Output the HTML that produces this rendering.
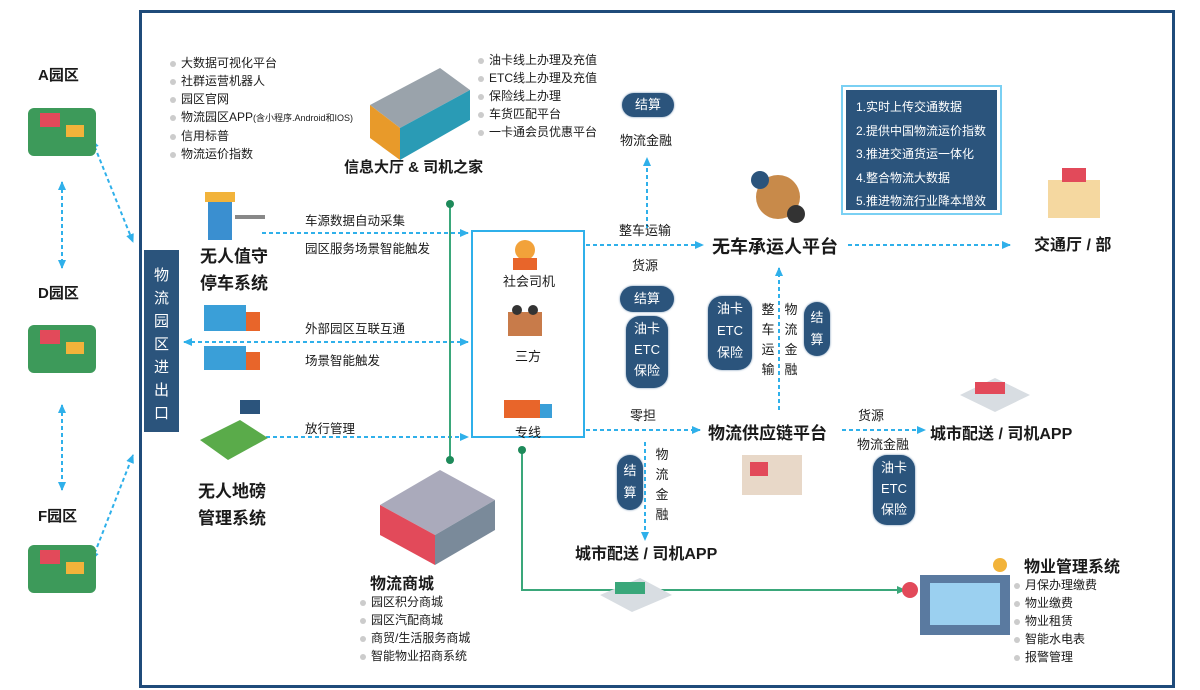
<!DOCTYPE html>
<html><head><meta charset="utf-8"><style>
body{margin:0;width:1200px;height:690px;background:#fff;position:relative;overflow:hidden;font-family:"Liberation Sans","Noto Sans CJK SC",sans-serif;color:#1a1a1a}
.a{position:absolute;white-space:nowrap}
.t{font-size:12.5px}
.b{font-weight:bold}
.big{font-size:17px;font-weight:bold;line-height:27px}
.pill{position:absolute;background:#2b547c;color:#fff;border-radius:14px;text-align:center;font-size:13px;line-height:17px;box-shadow:0 0 2px #6a8cae}
.li{font-size:12px;line-height:18px}
.li div::before{content:"";display:inline-block;width:6px;height:6px;border-radius:3px;background:#ccc;margin-right:5px;vertical-align:middle}
.v{width:14px;white-space:normal;line-height:20px;font-size:13px;text-align:center}
svg{position:absolute;left:0;top:0}
</style></head><body>
<div class="a" style="left:139px;top:10px;width:1030px;height:672px;border:3px solid #1f4b7a"></div>
<div class="a" style="left:144px;top:250px;width:35px;height:182px;background:#2b547c;color:#fff;font-size:15px;line-height:23px;white-space:normal;text-align:center;padding:14px 10px 0;box-sizing:border-box;word-break:break-all">物流园区进出口</div>

<svg width="1200" height="690">
<defs>
<marker id="m" markerUnits="userSpaceOnUse" markerWidth="10" markerHeight="10" refX="8" refY="5" orient="auto"><path d="M0,1 L9,5 L0,9z" fill="#2fb0ea"/></marker>
<marker id="ms" markerUnits="userSpaceOnUse" markerWidth="10" markerHeight="10" refX="2" refY="5" orient="auto"><path d="M10,1 L1,5 L10,9z" fill="#2fb0ea"/></marker>
<marker id="g" markerUnits="userSpaceOnUse" markerWidth="10" markerHeight="10" refX="8" refY="5" orient="auto"><path d="M0,1 L9,5 L0,9z" fill="#3aa77a"/></marker>
</defs>
<g stroke="#2fb0ea" stroke-width="2" stroke-dasharray="4,3" fill="none">
<line x1="62" y1="182" x2="62" y2="268" marker-end="url(#m)" marker-start="url(#ms)"/>
<line x1="62" y1="405" x2="62" y2="490" marker-end="url(#m)" marker-start="url(#ms)"/>
<line x1="92" y1="140" x2="133" y2="242" marker-end="url(#m)" marker-start="url(#ms)"/>
<line x1="92" y1="560" x2="133" y2="455" marker-end="url(#m)" marker-start="url(#ms)"/>
<line x1="262" y1="233" x2="468" y2="233" marker-end="url(#m)"/>
<line x1="184" y1="342" x2="468" y2="342" marker-end="url(#m)" marker-start="url(#ms)"/>
<line x1="266" y1="437" x2="468" y2="437" marker-end="url(#m)"/>
<line x1="586" y1="245" x2="703" y2="245" marker-end="url(#m)"/>
<line x1="647" y1="228" x2="647" y2="158" marker-end="url(#m)"/>
<line x1="586" y1="430" x2="700" y2="430" marker-end="url(#m)"/>
<line x1="779" y1="410" x2="779" y2="268" marker-end="url(#m)"/>
<line x1="848" y1="245" x2="1010" y2="245" marker-end="url(#m)"/>
<line x1="842" y1="430" x2="925" y2="430" marker-end="url(#m)"/>
<line x1="645" y1="442" x2="645" y2="540" marker-end="url(#m)"/>
</g>
<rect x="472" y="231" width="112" height="206" fill="none" stroke="#2fb0ea" stroke-width="2"/>
<rect x="842" y="86" width="159" height="128" fill="#fff" stroke="#7ad0f3" stroke-width="2"/>
<rect x="846" y="90" width="151" height="120" fill="#2b547c"/>
<g stroke="#3aa77a" stroke-width="2" fill="none">
<line x1="450" y1="205" x2="450" y2="460"/>
<polyline points="522,450 522,590 905,590" marker-end="url(#g)"/>
</g>
<circle cx="450" cy="204" r="4" fill="#1e8a5a"/><circle cx="450" cy="460" r="4" fill="#1e8a5a"/><circle cx="522" cy="450" r="4" fill="#1e8a5a"/>
<g>
<rect x="28" y="108" width="68" height="48" rx="6" fill="#3d9a5a"/>
<rect x="40" y="113" width="20" height="14" fill="#e24a5a"/><rect x="66" y="125" width="18" height="12" fill="#f2b33a"/>
<rect x="28" y="325" width="68" height="48" rx="6" fill="#3d9a5a"/>
<rect x="40" y="330" width="20" height="14" fill="#e24a5a"/><rect x="66" y="342" width="18" height="12" fill="#f2b33a"/>
<rect x="28" y="545" width="68" height="48" rx="6" fill="#3d9a5a"/>
<rect x="40" y="550" width="20" height="14" fill="#e24a5a"/><rect x="66" y="562" width="18" height="12" fill="#f2b33a"/>
</g>
<polygon points="370,105 440,68 470,90 400,128" fill="#9aa3ab"/>
<polygon points="370,105 400,128 400,160 370,138" fill="#e89a2a"/>
<polygon points="400,128 470,90 470,120 400,160" fill="#2a9bb5"/>
<rect x="205" y="192" width="30" height="10" fill="#f2b33a"/><rect x="208" y="202" width="24" height="38" fill="#3a8fd0"/><rect x="235" y="215" width="30" height="4" fill="#888"/>
<rect x="204" y="305" width="42" height="26" fill="#3a9fd8"/><rect x="246" y="312" width="14" height="19" fill="#e8652a"/>
<rect x="204" y="346" width="42" height="24" fill="#3a9fd8"/><rect x="246" y="352" width="14" height="18" fill="#e8652a"/>
<rect x="504" y="400" width="36" height="18" fill="#e8652a"/><rect x="540" y="404" width="12" height="14" fill="#3a9fd8"/>
<circle cx="525" cy="250" r="10" fill="#f2a23a"/><rect x="513" y="258" width="24" height="12" fill="#e8652a"/>
<rect x="508" y="312" width="34" height="24" fill="#c87b4a"/><circle cx="517" cy="310" r="5" fill="#333"/><circle cx="533" cy="310" r="5" fill="#333"/>
<polygon points="200,440 240,420 268,438 228,460" fill="#5aab4a"/><rect x="240" y="400" width="20" height="14" fill="#2b547c"/>
<circle cx="778" cy="197" r="22" fill="#c88a4a"/><circle cx="760" cy="180" r="9" fill="#2b547c"/><circle cx="796" cy="214" r="9" fill="#333"/>
<rect x="1048" y="180" width="52" height="38" fill="#f5d8a0"/><rect x="1062" y="168" width="24" height="14" fill="#e24a5a"/>
<polygon points="960,395 995,378 1030,395 995,412" fill="#d8dde2"/><rect x="975" y="382" width="30" height="12" fill="#e24a5a"/>
<polygon points="600,595 640,578 672,595 632,612" fill="#d8dde2"/><rect x="615" y="582" width="30" height="12" fill="#3aa77a"/>
<rect x="742" y="455" width="60" height="40" fill="#e8d8c8"/><rect x="750" y="462" width="18" height="14" fill="#e24a5a"/>
<polygon points="380,505 440,470 495,500 435,535" fill="#aab"/><polygon points="380,505 435,535 435,565 380,535" fill="#e24a5a"/><polygon points="435,535 495,500 495,530 435,565" fill="#7a8a9a"/>
<rect x="920" y="575" width="90" height="60" fill="#5a7aa0"/><rect x="930" y="583" width="70" height="42" fill="#9bd0f0"/><circle cx="910" cy="590" r="8" fill="#e24a5a"/><circle cx="1000" cy="565" r="7" fill="#f2b33a"/>
</svg>

<div class="a b" style="left:38px;top:64px;font-size:15px">A园区</div>
<div class="a b" style="left:38px;top:282px;font-size:15px">D园区</div>
<div class="a b" style="left:38px;top:505px;font-size:15px">F园区</div>

<div class="a li" style="left:170px;top:54px"><div>大数据可视化平台</div><div>社群运营机器人</div><div>园区官网</div><div>物流园区APP<span style="font-size:9px">(含小程序.Android和IOS)</span></div><div>信用标普</div><div>物流运价指数</div></div>
<div class="a li" style="left:478px;top:51px"><div>油卡线上办理及充值</div><div>ETC线上办理及充值</div><div>保险线上办理</div><div>车货匹配平台</div><div>一卡通会员优惠平台</div></div>
<div class="a b" style="left:344px;top:156px;font-size:15px">信息大厅 &amp; 司机之家</div>

<div class="pill" style="left:622px;top:93px;width:52px;height:24px;line-height:24px">结算</div>
<div class="a t" style="left:620px;top:130px;font-size:13px">物流金融</div>

<div class="a big" style="left:200px;top:243px">无人值守<br>停车系统</div>
<div class="a big" style="left:198px;top:478px">无人地磅<br>管理系统</div>
<div class="a t" style="left:305px;top:210px">车源数据自动采集</div>
<div class="a t" style="left:305px;top:238px">园区服务场景智能触发</div>
<div class="a t" style="left:305px;top:318px">外部园区互联互通</div>
<div class="a t" style="left:305px;top:350px">场景智能触发</div>
<div class="a t" style="left:305px;top:418px">放行管理</div>

<div class="a t" style="left:503px;top:271px;font-size:13px">社会司机</div>
<div class="a t" style="left:515px;top:346px;font-size:13px">三方</div>
<div class="a t" style="left:515px;top:422px;font-size:13px">专线</div>

<div class="a t" style="left:619px;top:220px;font-size:13px">整车运输</div>
<div class="a t" style="left:632px;top:255px;font-size:13px">货源</div>
<div class="pill" style="left:620px;top:286px;width:54px;height:26px;line-height:26px">结算</div>
<div class="pill" style="left:626px;top:316px;width:42px;height:70px;padding-top:2px;line-height:21px">油卡<br>ETC<br>保险</div>
<div class="a t" style="left:630px;top:405px;font-size:13px">零担</div>

<div class="a b" style="left:712px;top:233px;font-size:18px">无车承运人平台</div>
<div class="a b" style="left:1034px;top:231px;font-size:16px">交通厅 / 部</div>
<div class="pill" style="left:708px;top:296px;width:44px;height:72px;line-height:22px;padding-top:2px">油卡<br>ETC<br>保险</div>
<div class="a v" style="left:761px;top:300px">整车运输</div>
<div class="a v" style="left:784px;top:300px">物流金融</div>
<div class="pill" style="left:804px;top:302px;width:26px;height:54px;line-height:22px;padding-top:5px;box-sizing:border-box">结<br>算</div>

<div class="a b" style="left:708px;top:419px;font-size:17px">物流供应链平台</div>
<div class="a t" style="left:858px;top:405px;font-size:13px">货源</div>
<div class="a t" style="left:857px;top:434px;font-size:13px">物流金融</div>
<div class="a b" style="left:930px;top:420px;font-size:16px">城市配送 / 司机APP</div>
<div class="pill" style="left:873px;top:455px;width:42px;height:68px;line-height:21px;padding-top:2px">油卡<br>ETC<br>保险</div>
<div class="pill" style="left:617px;top:455px;width:26px;height:55px;line-height:22px;padding-top:5px;box-sizing:border-box">结<br>算</div>
<div class="a v" style="left:655px;top:445px">物流金融</div>
<div class="a b" style="left:575px;top:540px;font-size:16px">城市配送 / 司机APP</div>

<div class="a" style="left:856px;top:96px;color:#fff;font-size:12px;line-height:23.5px">1.实时上传交通数据<br>2.提供中国物流运价指数<br>3.推进交通货运一体化<br>4.整合物流大数据<br>5.推进物流行业降本增效</div>

<div class="a b" style="left:370px;top:570px;font-size:16px">物流商城</div>
<div class="a li" style="left:360px;top:593px"><div>园区积分商城</div><div>园区汽配商城</div><div>商贸/生活服务商城</div><div>智能物业招商系统</div></div>
<div class="a b" style="left:1024px;top:553px;font-size:16px">物业管理系统</div>
<div class="a li" style="left:1014px;top:576px"><div>月保办理缴费</div><div>物业缴费</div><div>物业租赁</div><div>智能水电表</div><div>报警管理</div></div>
</body></html>
